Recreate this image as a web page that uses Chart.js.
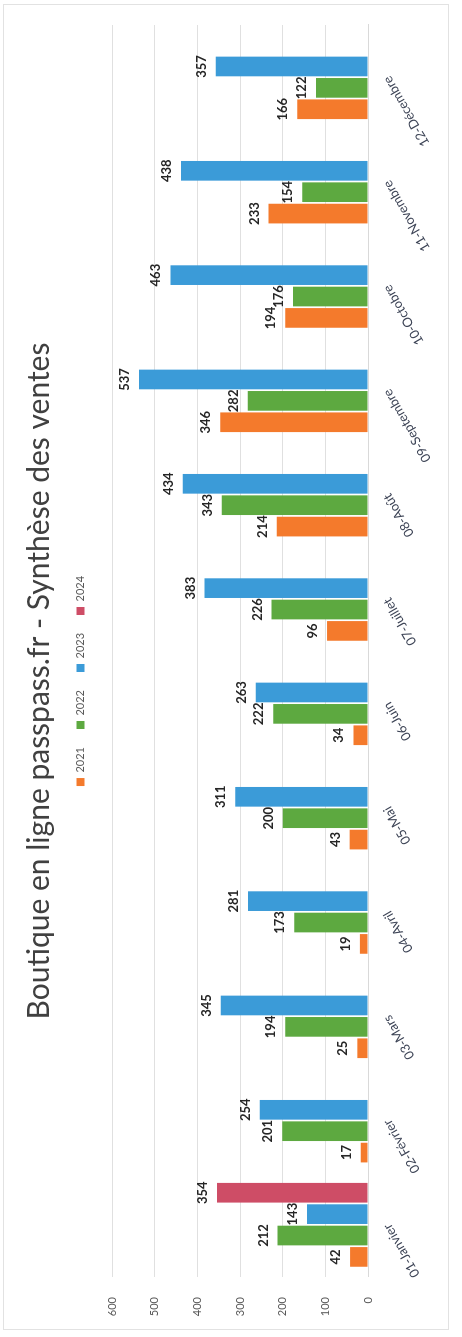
<!DOCTYPE html>
<html lang="fr">
<head>
<meta charset="utf-8">
<title>Boutique en ligne passpass.fr - Synthèse des ventes</title>
<script src="https://cdn.jsdelivr.net/npm/chart.js@4.4.1/dist/chart.umd.min.js"></script>
<style>
    html, body { margin: 0; padding: 0; background: #fff; overflow: hidden; }
    /* the sheet was scanned sideways: draw the chart upright, then turn it */
    #wrap {
        position: absolute; left: 0; top: 0;
        width: 1337px; height: 462px;
        transform-origin: 0 0;
        transform: translate(0, 1337px) rotate(-90deg);
    }
</style>
</head>
<body>
<div id="wrap"><canvas id="ventes" width="1337" height="462"></canvas></div>
<script>
const months = ["01-Janvier", "02-Février", "03-Mars", "04-Avril", "05-Mai", "06-Juin",
    "07-Juillet", "08-Août", "09-Septembre", "10-Octobre", "11-Novembre", "12-Décembre"];
const years = ["2021", "2022", "2023", "2024"];
const sales2021 = [42, 17, 25, 19, 43, 34, 96, 214, 346, 194, 233, 166];
const sales2022 = [212, 201, 194, 173, 200, 222, 226, 343, 282, 176, 154, 122];
const sales2023 = [143, 254, 345, 281, 311, 263, 383, 434, 537, 463, 438, 357];
const sales2024 = [354, null, null, null, null, null, null, null, null, null, null, null];
const yTicks = [0, 100, 200, 300, 400, 500, 600];

const colors = ["#F47A2C", "#5DA940", "#3B9BD8", "#CE4D66"];

Chart.defaults.font.family = 'Lato, "Open Sans", sans-serif';

// value written just above each bar
const barValues = {
    id: 'barValues',
    afterDatasetsDraw(chart) {
        const ctx = chart.ctx;
        ctx.save();
        ctx.font = 'bold 13px Lato, sans-serif';
        ctx.fillStyle = '#262626';
        ctx.textAlign = 'center';
        ctx.textBaseline = 'alphabetic';
        chart.data.datasets.forEach((ds, i) => {
            chart.getDatasetMeta(i).data.forEach((bar, j) => {
                let v = ds.data[j];
                if (v == null) return;
                ctx.fillText(v, bar.x, bar.y - 10);
            });
        });
        ctx.restore();
    }
};

// thin frame round the chart
const frame = {
    id: 'frame',
    beforeDraw(chart) {
        const ctx = chart.ctx;
        ctx.save();
        ctx.strokeStyle = '#e2e2e2';
        ctx.lineWidth = 1;
        ctx.strokeRect(7.5, 3.5, 1325, 445);
        ctx.restore();
    }
};

// a bit more room under the legend, before the plot
const legendGap = {
    id: 'legendGap',
    beforeInit(chart) {
        const lg = chart.legend;
        if (!lg) return;
        const fit = lg.fit;
        lg.fit = function () {
            fit.call(this);
            this.height += 16;
        };
    }
};

let series = [sales2021, sales2022, sales2023, sales2024];

new Chart(document.getElementById('ventes'), {
    type: 'bar',
    data: {
        labels: months,
        datasets: years.map((y, i) => ({
            label: y,
            data: series[i],
            backgroundColor: colors[i],
            borderWidth: 0,
            categoryPercentage: 0.82,
            barPercentage: 0.92
        }))
    },
    options: {
        responsive: false,
        animation: false,
        layout: { padding: { left: 0, right: 25, top: 0, bottom: 0 } },
        plugins: {
            title: {
                display: true,
                text: 'Boutique en ligne passpass.fr - Synthèse des ventes',
                color: '#404040',
                font: { size: 30, weight: 'normal' },
                padding: { top: 21, bottom: 0 }
            },
            legend: {
                display: true,
                position: 'top',
                labels: {
                    boxWidth: 8,
                    boxHeight: 8,
                    color: '#595959',
                    font: { size: 11 },
                    padding: 18
                }
            },
            tooltip: { enabled: false }
        },
        scales: {
            x: {
                grid: { display: false },
                border: { display: true, color: '#d9d9d9' },
                ticks: {
                    color: '#3d4456',
                    font: { size: 13 },
                    maxRotation: 30,
                    minRotation: 30,
                    autoSkip: false,
                    padding: 4
                },
                afterFit(scale) { scale.height = 94; }
            },
            y: {
                min: yTicks[0],
                max: yTicks[yTicks.length - 1],
                afterBuildTicks(scale) { scale.ticks = yTicks.map(v => ({ value: v })); },
                grid: { color: '#e0e0e0', drawTicks: false },
                border: { display: false },
                ticks: { color: '#595959', font: { size: 11 }, padding: 20 },
                afterFit(scale) { scale.width = 60; }
            }
        }
    },
    plugins: [barValues, frame, legendGap]
});
</script>
</body>
</html>
